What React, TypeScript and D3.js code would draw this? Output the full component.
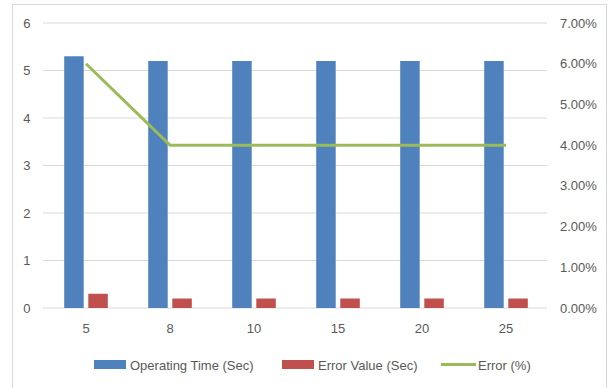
import React from "react";
import * as d3 from "d3";

const categories = ["5", "8", "10", "15", "20", "25"];
const operatingTime = [5.3, 5.2, 5.2, 5.2, 5.2, 5.2];
const errorValue = [0.3, 0.2, 0.2, 0.2, 0.2, 0.2];
const errorPct = [0.06, 0.04, 0.04, 0.04, 0.04, 0.04];
const leftTicks = [0, 1, 2, 3, 4, 5, 6];
const rightTicks = [0, 0.01, 0.02, 0.03, 0.04, 0.05, 0.06, 0.07];

const W = 608;
const H = 388;
const left = 43;
const right = 547;
const top = 23;
const bottom = 308;

const BLUE = "#4F81BD";
const RED = "#C0504D";
const GREEN = "#9BBB59";
const TEXT = "#595959";
const GRID = "#D9D9D9";
const FONT = "'Liberation Sans', Arial, sans-serif";

export default function App() {
  const x = d3.scaleBand<string>().domain(categories).range([left + 1, right + 1]);
  const yL = d3.scaleLinear().domain([0, 6]).range([bottom, top]);
  const yR = d3.scaleLinear().domain([0, 0.07]).range([bottom, top]);
  const bw = x.bandwidth();
  const barW = bw * 0.232;
  const gap = bw * 0.055;
  const line = d3
    .line<number>()
    .x((_, i) => (x(categories[i]) as number) + bw / 2)
    .y((d) => yR(d));

  const legend = [
    { label: "Operating Time (Sec)", color: BLUE, type: "bar", x: 94 },
    { label: "Error Value (Sec)", color: RED, type: "bar", x: 282 },
    { label: "Error (%)", color: GREEN, type: "line", x: 441 },
  ];

  return (
    <svg
      width={W}
      height={H}
      style={{ position: "absolute", left: 0, top: 0, background: "#fff" }}
      fontFamily={FONT}
    >
      <rect x={12.5} y={4.5} width={594} height={400} fill="#fff" stroke={GRID} />
      {leftTicks.map((t) => (
        <line key={t} x1={left} x2={right} y1={yL(t)} y2={yL(t)} stroke={GRID} strokeWidth={1} />
      ))}
      {leftTicks.map((t) => (
        <text key={t} x={30.5} y={yL(t)} dy="0.35em" textAnchor="end" fontSize={13} fill={TEXT}>
          {t}
        </text>
      ))}
      {rightTicks.map((t) => (
        <text key={t} x={560} y={yR(t)} dy="0.35em" textAnchor="start" fontSize={13} fill={TEXT}>
          {d3.format(".2%")(t)}
        </text>
      ))}
      {categories.map((c) => (
        <text
          key={c}
          x={(x(c) as number) + bw / 2}
          y={bottom + 20}
          dy="0.35em"
          textAnchor="middle"
          fontSize={13}
          fill={TEXT}
        >
          {c}
        </text>
      ))}
      {categories.map((c, i) => {
        const cx = (x(c) as number) + bw / 2;
        return (
          <g key={c}>
            <rect
              x={cx - gap / 2 - barW}
              y={yL(operatingTime[i])}
              width={barW}
              height={bottom - yL(operatingTime[i])}
              fill={BLUE}
            />
            <rect
              x={cx + gap / 2}
              y={yL(errorValue[i])}
              width={barW}
              height={bottom - yL(errorValue[i])}
              fill={RED}
            />
          </g>
        );
      })}
      <path d={line(errorPct) || ""} fill="none" stroke={GREEN} strokeWidth={3} strokeLinejoin="round" />
      {legend.map((l) => (
        <g key={l.label}>
          {l.type === "bar" ? (
            <rect x={l.x} y={360} width={32} height={9} fill={l.color} />
          ) : (
            <line x1={l.x} x2={l.x + 35} y1={364.5} y2={364.5} stroke={l.color} strokeWidth={3} />
          )}
          <text
            x={l.x + (l.type === "bar" ? 36 : 37)}
            y={365}
            dy="0.35em"
            fontSize={13}
            fill={TEXT}
          >
            {l.label}
          </text>
        </g>
      ))}
    </svg>
  );
}
